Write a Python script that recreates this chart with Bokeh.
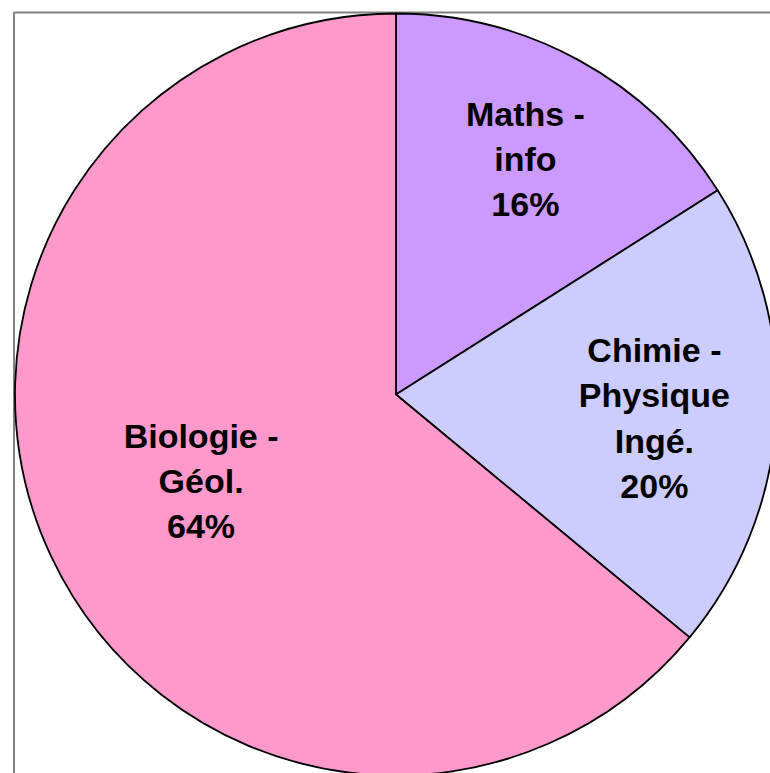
import math
from bokeh.plotting import figure
from bokeh.models import ColumnDataSource, Range1d
from bokeh.core.properties import value
from bokeh.embed import file_html
from bokeh.resources import INLINE

# Data
categories = ["Maths -\ninfo", "Chimie -\nPhysique\nIngé.", "Biologie -\nGéol."]
shares = [16, 20, 64]
colors = ["#CC99FF", "#CCCCFF", "#FF99CC"]
label_radius_frac = [0.705, 0.681, 0.56]
label_angle_offset_deg = [0.0, -1.6, -1.2]

W, H = 770, 773
cx, cy, R = 395.5, 379.0, 381.0

total = float(sum(shares))
starts, ends, lx, ly, labels = [], [], [], [], []
cum = 0.0
for cat, s, fr, off in zip(categories, shares, label_radius_frac, label_angle_offset_deg):
    a0 = math.pi / 2 - 2 * math.pi * (cum + s) / total
    a1 = math.pi / 2 - 2 * math.pi * cum / total
    starts.append(a0)
    ends.append(a1)
    mid = (a0 + a1) / 2 + math.radians(off)
    lx.append(cx + fr * R * math.cos(mid))
    ly.append(cy + fr * R * math.sin(mid))
    labels.append(f"{cat}\n{s}%")
    cum += s

src = ColumnDataSource(dict(start=starts, end=ends, color=colors,
                            lx=lx, ly=ly, label=labels))

p = figure(width=W, height=H, x_range=Range1d(0, W), y_range=Range1d(0, H),
           output_backend="svg", toolbar_location=None,
           x_axis_type=None, y_axis_type=None, min_border=0,
           outline_line_color=None, background_fill_color="white",
           border_fill_color="white")
p.grid.visible = False

# chart frame (only left and top visible in the window)
p.quad(left=13.5, right=W + 50, top=761.0, bottom=-50,
       fill_color=None, line_color="#808080", line_width=2)

p.wedge(x=cx, y=cy, radius=R, start_angle="start", end_angle="end",
        direction="anticlock", fill_color="color", line_color="black",
        line_width=1.8, source=src)

p.text(x="lx", y="ly", text="label", source=src,
       text_align="center", text_baseline="middle",
       text_font=value("Liberation Sans"), text_font_style="bold",
       text_font_size="34px", text_line_height=1.19, text_color="black")

open("out.html", "w").write(file_html(p, INLINE))
